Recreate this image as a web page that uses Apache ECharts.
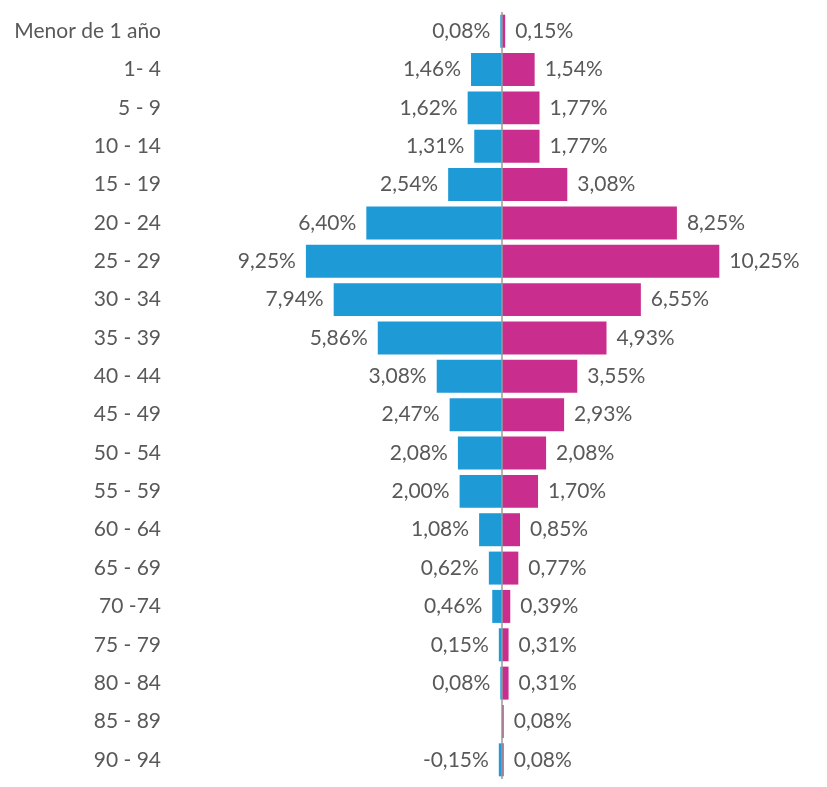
<!DOCTYPE html>
<html><head><meta charset="utf-8">
<script src="https://cdn.jsdelivr.net/npm/echarts@6/dist/echarts.min.js"></script>
<style>html,body{margin:0;padding:0;background:#fff}#c{width:827px;height:787px}</style>
</head><body><div id="c"></div>
<script>
var categories = ['Menor de 1 año','1- 4','5 - 9','10 - 14','15 - 19','20 - 24','25 - 29','30 - 34','35 - 39','40 - 44','45 - 49','50 - 54','55 - 59','60 - 64','65 - 69','70 -74','75 - 79','80 - 84','85 - 89','90 - 94'];
var male = [0.08,1.46,1.62,1.31,2.54,6.40,9.25,7.94,5.86,3.08,2.47,2.08,2.00,1.08,0.62,0.46,0.15,0.08,null,-0.15];
var female = [0.15,1.54,1.77,1.77,3.08,8.25,10.25,6.55,4.93,3.55,2.93,2.08,1.70,0.85,0.77,0.39,0.31,0.31,0.08,0.08];

function fmt(v){ return v.toFixed(2).replace('.', ',') + '%'; }
var FONT = 'Lato';
var TXT = '#595959';
var FS = 21;
var chart = echarts.init(document.getElementById('c'), null, {renderer:'canvas'});
chart.setOption({
  animation:false,
  grid:{left:184, right:7, top:12, bottom:8, containLabel:false},
  xAxis:{type:'value', min:-15, max:15, show:false},
  yAxis:{type:'category', data:categories, inverse:true,
    axisLine:{show:false}, axisTick:{show:false},
    axisLabel:{margin:23, color:TXT, fontFamily:FONT, fontSize:FS}},
  series:[
    {type:'bar', name:'Hombres', stack:'s', barCategoryGap:'14%',
     data: male.map(function(v){ return v==null? null : -Math.abs(v); }),
     itemStyle:{color:'#1e9ad6'},
     label:{show:true, position:'left', distance:10, color:TXT, fontFamily:FONT, fontSize:FS,
       formatter:function(p){ var v = male[p.dataIndex]; return v==null?'':fmt(v); }},
     markLine:{silent:true, symbol:'none', label:{show:false},
       lineStyle:{color:'#9a9a9a', width:1.5, type:'solid'},
       data:[{xAxis:0}]}
    },
    {type:'bar', name:'Mujeres', stack:'s', barCategoryGap:'14%',
     data: female,
     itemStyle:{color:'#c92e8e'},
     label:{show:true, position:'right', distance:10, color:TXT, fontFamily:FONT, fontSize:FS,
       formatter:function(p){ return fmt(female[p.dataIndex]); }}
    }
  ]
});
</script></body></html>
